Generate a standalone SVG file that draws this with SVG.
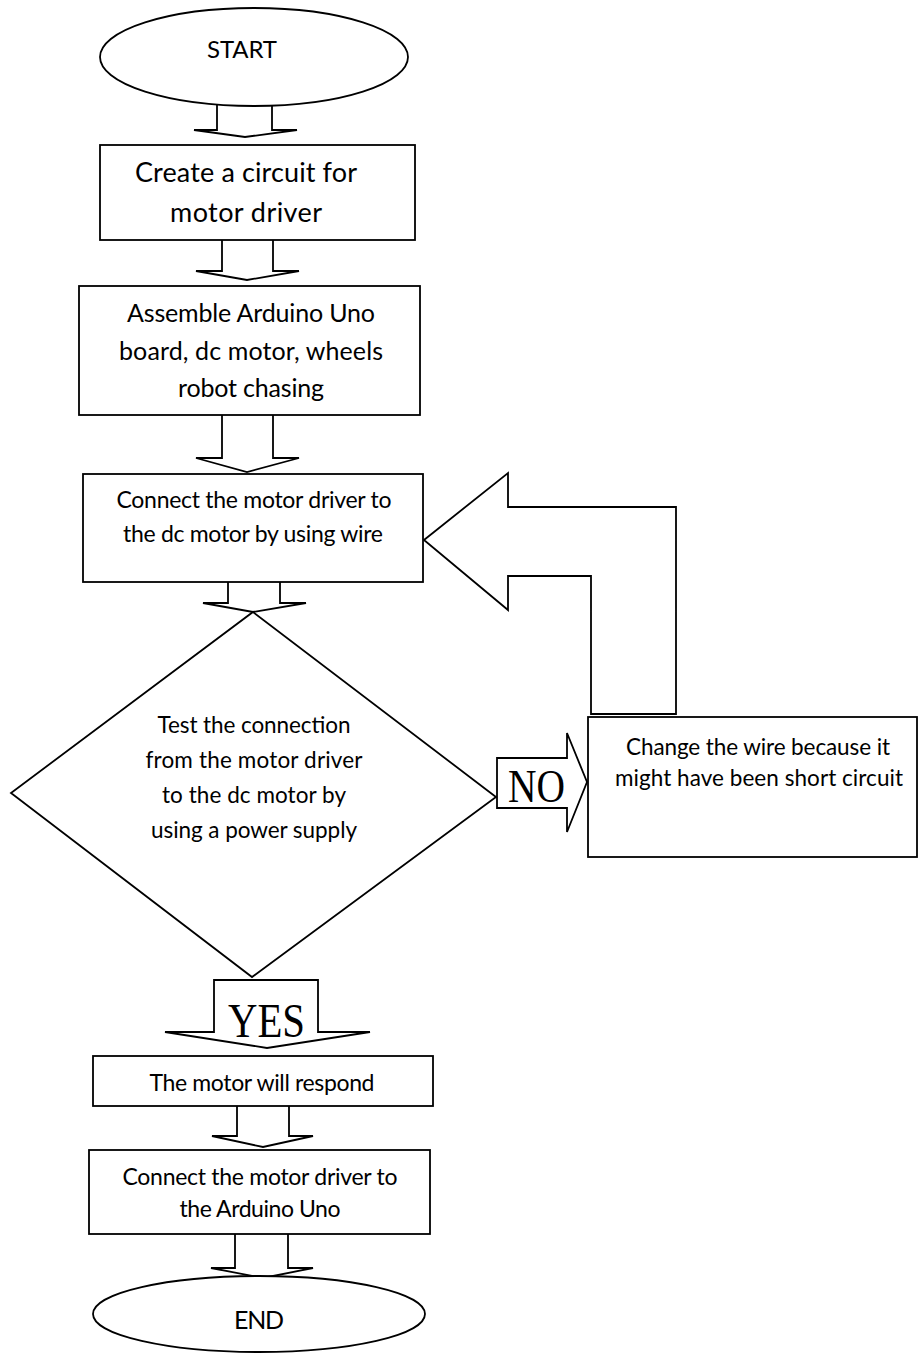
<svg xmlns="http://www.w3.org/2000/svg" width="918" height="1356" viewBox="0 0 918 1356">
<style>
.shape{fill:#fff;stroke:#000;stroke-width:1.8;stroke-linejoin:miter}
.arrow{fill:#fff;stroke:#000;stroke-width:1.8;stroke-linejoin:miter}
.t{font-family:Lato,"Open Sans","Liberation Sans",sans-serif;fill:#000;text-anchor:middle}
.lbl{font-family:"Liberation Serif","Times New Roman",serif;fill:#000}
</style>
<rect x="0" y="0" width="918" height="1356" fill="#fff"/>
<g id="connectors">
<path class="arrow" d="M217,105 L217,130 L194,130 L245,137 L297,130 L272,130 L272,105"/>
<path class="arrow" d="M222,240 L222,271 L196,271 L247,280 L299,271 L273,271 L273,240"/>
<path class="arrow" d="M222,415 L222,458 L196,458 L247,472 L299,458 L273,458 L273,415"/>
<path class="arrow" d="M228,581 L228,603 L203,603 L253,612 L306,603 L280,603 L280,581"/>
<path class="arrow" d="M214,1032 L214,980 L318,980 L318,1032 L370,1032 L267,1048 L165,1032 Z"/>
<path class="arrow" d="M237,1106 L237,1136 L212,1136 L263,1147 L313,1136 L289,1136 L289,1106"/>
<path class="arrow" d="M235,1234 L235,1268 L211,1268 L263,1278 L313,1268 L288,1268 L288,1234"/>
<path class="arrow" d="M497,758 L567,758 L567,733 L587,782 L567,832 L567,808 L497,808 Z"/>
<path class="arrow" d="M424,540 L508,473 L508,507 L676,507 L676,714 L591,714 L591,576 L508,576 L508,610 Z"/>
<text class="lbl" x="508" y="802" font-size="46" textLength="57" lengthAdjust="spacingAndGlyphs">NO</text>
<text class="lbl" x="228" y="1037" font-size="48" textLength="77" lengthAdjust="spacingAndGlyphs">YES</text>
</g>
<g id="start">
<ellipse class="shape" cx="254" cy="57" rx="154" ry="49"/>
<text class="t" x="242" y="58" font-size="24" textLength="70">START</text>
</g>
<g id="create">
<rect class="shape" x="100" y="145" width="315" height="95"/>
<text class="t" x="246" y="182" font-size="27" textLength="222">Create a circuit for</text>
<text class="t" x="246" y="222" font-size="27" textLength="152">motor driver</text>
</g>
<g id="assemble">
<rect class="shape" x="79" y="286" width="341" height="129"/>
<text class="t" x="251" y="322" font-size="25" textLength="248">Assemble Arduino Uno</text>
<text class="t" x="251" y="360" font-size="25" textLength="264">board, dc motor, wheels</text>
<text class="t" x="251" y="397" font-size="25" textLength="146">robot chasing</text>
</g>
<g id="connect-dc">
<rect class="shape" x="83" y="474" width="340" height="108"/>
<text class="t" x="254" y="508" font-size="23" textLength="275">Connect the motor driver to</text>
<text class="t" x="253" y="542" font-size="23" textLength="260">the dc motor by using wire</text>
</g>
<g id="test">
<polygon class="shape" points="253,612 496,797 252,977 11,793"/>
<text class="t" x="254" y="733" font-size="22.5" textLength="193">Test the connection</text>
<text class="t" x="254" y="768" font-size="22.5" textLength="217">from the motor driver</text>
<text class="t" x="254" y="803" font-size="22.5" textLength="184">to the dc motor by</text>
<text class="t" x="254" y="838" font-size="22.5" textLength="206">using a power supply</text>
</g>
<g id="change">
<rect class="shape" x="588" y="717" width="329" height="140"/>
<text class="t" x="758" y="755" font-size="22.5" textLength="264">Change the wire because it</text>
<text class="t" x="759" y="786" font-size="22.5" textLength="288">might have been short circuit</text>
</g>
<g id="respond">
<rect class="shape" x="93" y="1056" width="340" height="50"/>
<text class="t" x="262" y="1091" font-size="23" textLength="225">The motor will respond</text>
</g>
<g id="connect-uno">
<rect class="shape" x="89" y="1150" width="341" height="84"/>
<text class="t" x="260" y="1185" font-size="23" textLength="275">Connect the motor driver to</text>
<text class="t" x="260" y="1217" font-size="23" textLength="161">the Arduino Uno</text>
</g>
<g id="end">
<ellipse class="shape" cx="259" cy="1314" rx="166" ry="38"/>
<text class="t" x="259" y="1329" font-size="25" textLength="50">END</text>
</g>
</svg>
